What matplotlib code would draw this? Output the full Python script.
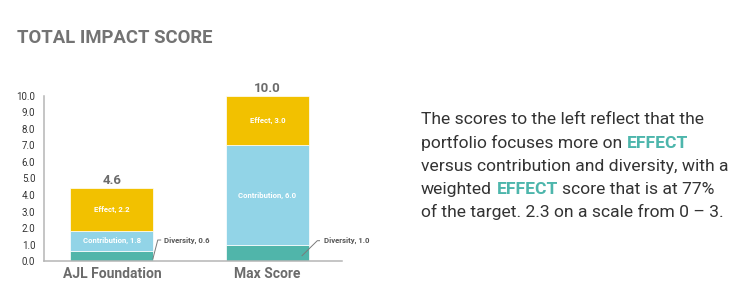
import matplotlib
matplotlib.use("Agg")
import matplotlib.pyplot as plt
import numpy as np

plt.rcParams['font.family'] = ['Roboto', 'DejaVu Sans']

# ---- data ----
categories = ["AJL Foundation", "Max Score"]
diversity = [0.65, 1.0]          # bar heights as drawn
contribution = [1.2, 6.0]
effect = [2.6, 3.0]
diversity_labels = ["0.6", "1.0"]  # values printed in the chart
contribution_labels = ["1.8", "6.0"]
effect_labels = ["2.2", "3.0"]
total_labels = ["4.6", "10.0"]
yticks = [0, 1, 2, 3, 4, 5, 6, 7, 8, 9, 10]

C_EFFECT = "#F2C100"
C_CONTRIB = "#92D4E7"
C_DIVERS = "#50B5AA"
C_TEAL_TEXT = "#4DB6AC"
GRAY_TEXT = "#6b6b6b"

W, H = 748, 302
fig = plt.figure(figsize=(W / 100, H / 100), dpi=100)

# axes placed in pixel terms
ax_l, ax_r, ax_b, ax_t = 44, 342, 261.3, 95.7
ax = fig.add_axes([ax_l / W, (H - ax_b) / H, (ax_r - ax_l) / W, (ax_b - ax_t) / H])

x = np.arange(len(categories))
xlim = (-0.437, 1.479)
px_per_x = (ax_r - ax_l) / (xlim[1] - xlim[0])
bw = 83 / px_per_x

div = np.array(diversity)
con = np.array(contribution)
eff = np.array(effect)

ax.bar(x, div, width=bw, color=C_DIVERS, edgecolor="white", linewidth=0.5)
ax.bar(x, con, width=bw, bottom=div, color=C_CONTRIB, edgecolor="white", linewidth=0.5)
ax.bar(x, eff, width=bw, bottom=div + con, color=C_EFFECT, edgecolor="white", linewidth=0.5)

ax.set_xlim(*xlim)
ax.set_ylim(0, 10)
ax.set_yticks(yticks)
ax.set_yticklabels([f"{v:.1f}" for v in yticks], fontsize=7, color="#333333")
ax.tick_params(axis="y", length=0, pad=6.3)
ax.set_xticks([])
for s in ["top", "right"]:
    ax.spines[s].set_visible(False)
for s in ["left", "bottom"]:
    ax.spines[s].set_color("#b5b5b5")
    ax.spines[s].set_linewidth(1.1)

# segment labels
for i in range(len(categories)):
    ax.text(x[i], div[i] + con[i] / 2, f"Contribution, {contribution_labels[i]}",
            ha="center", va="center", fontsize=5.6, fontweight="bold", color="white")
    ax.text(x[i], div[i] + con[i] + eff[i] / 2, f"Effect, {effect_labels[i]}",
            ha="center", va="center", fontsize=5.6, fontweight="bold", color="white")
    top = div[i] + con[i] + eff[i]
    ax.annotate(total_labels[i], xy=(x[i], top), xytext=(0, 2.8), textcoords="offset points",
                ha="center", va="baseline", fontsize=9.5, fontweight="bold", color=GRAY_TEXT,
                annotation_clip=False)
    ax.annotate(categories[i], xy=(x[i], 0), xytext=(0, -12), textcoords="offset points",
                ha="center", va="baseline", fontsize=10, fontweight="bold", color=GRAY_TEXT,
                annotation_clip=False)

# diversity leader lines (pixel offsets relative to bar right edge)
ppd = (ax_b - ax_t) / 10.0
leaders = [
    dict(start=(-0.7, 2.0), mid=(4.3, 21.3), end=(7.7, 21.3), text=11.0),
    dict(start=(-7.3, 5.3), mid=(8.3, 20.6), end=(11.0, 20.6), text=15.0),
]
for i, ld in enumerate(leaders):
    xr = x[i] + bw / 2
    pts = [ld["start"], ld["mid"], ld["end"]]
    xs = [xr + p[0] / px_per_x for p in pts]
    ys = [p[1] / ppd for p in pts]
    ax.plot(xs, ys, color="#7a7a7a", lw=0.7, clip_on=False, solid_capstyle="butt")
    ax.text(xr + ld["text"] / px_per_x, ys[-1], f"Diversity, {diversity_labels[i]}",
            ha="left", va="center", fontsize=5.6, fontweight="bold", color="#555555",
            clip_on=False)

# title
fig.text(16.7 / W, 1 - 38.3 / H, "TOTAL IMPACT SCORE", ha="left", va="center",
         fontsize=13.3, fontweight="bold", color="#737373")

# right-side paragraph with colored words
renderer = fig.canvas.get_renderer()
lines = [
    [("The scores to the left reflect that the", "normal", "#333333")],
    [("portfolio focuses more on ", "normal", "#333333"), ("EFFECT", "bold", C_TEAL_TEXT)],
    [("versus contribution and diversity, with a", "normal", "#333333")],
    [("weighted ", "normal", "#333333"), ("EFFECT", "bold", C_TEAL_TEXT),
     (" score that is at 77%", "normal", "#333333")],
    [("of the target. 2.3 on a scale from 0 \u2013 3.", "normal", "#333333")],
]
x0 = 421
baselines = [124.3, 147.6, 170.9, 194.2, 217.5]
fs = 12.6


def text_width(s, weight):
    t = fig.text(0, 0, s, fontsize=fs, fontweight=weight)
    w = t.get_window_extent(renderer).width
    t.remove()
    return w


space_w = text_width("a a", "normal") - text_width("aa", "normal")

for bl, parts in zip(baselines, lines):
    cx = x0
    for s, weight, col in parts:
        lead = len(s) - len(s.lstrip(" "))
        trail = len(s) - len(s.rstrip(" "))
        core = s.strip(" ")
        cx += lead * space_w
        t = fig.text(cx / W, 1 - bl / H, core, ha="left", va="baseline",
                     fontsize=fs, fontweight=weight, color=col)
        cx += t.get_window_extent(renderer).width + trail * space_w

fig.savefig("out.png", dpi=100)
